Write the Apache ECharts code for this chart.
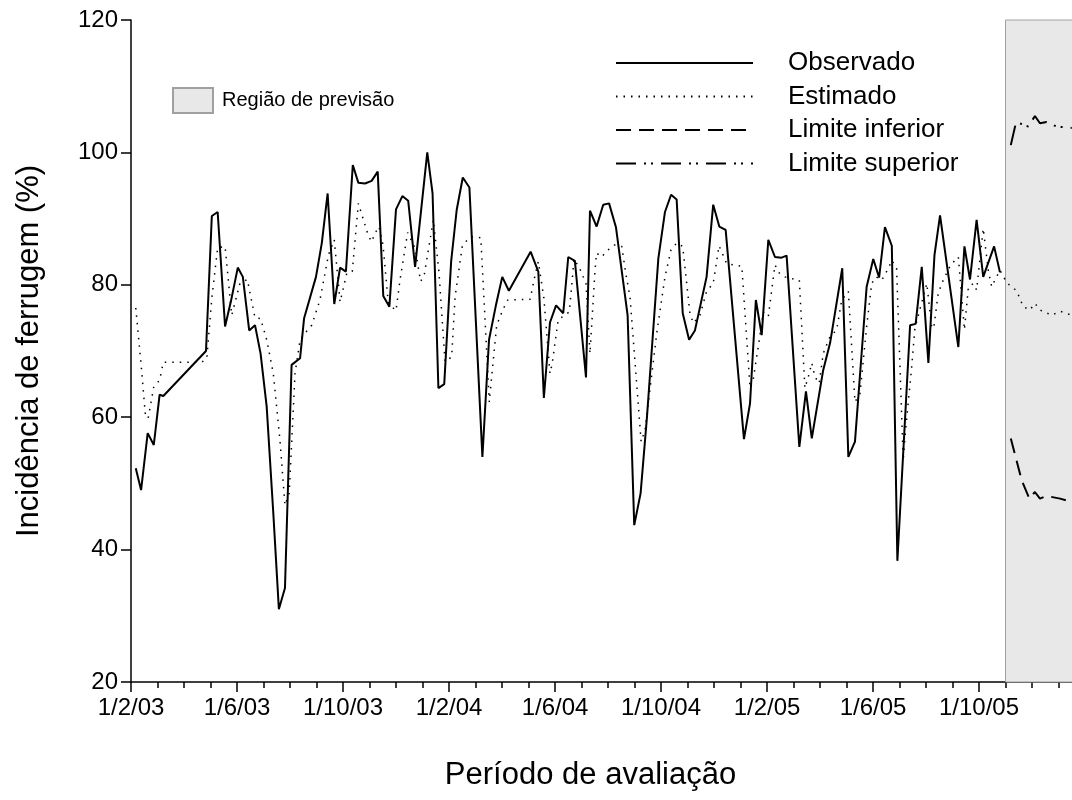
<!DOCTYPE html>
<html>
<head>
<meta charset="utf-8">
<script src="https://cdn.jsdelivr.net/npm/echarts@6/dist/echarts.min.js"></script>
<style>
  html, body { margin: 0; padding: 0; background: #fff; overflow: hidden; }
  /* a área do gráfico continua além da borda direita, como no original recortado */
  #chart { width: 1085px; height: 800px; }
</style>
</head>
<body>
<div id="chart"></div>
<script>
// eixo x: meses desde 1/2/03
const tickLabels = ['1/2/03', '1/6/03', '1/10/03', '1/2/04', '1/6/04', '1/10/04', '1/2/05', '1/6/05', '1/10/05']

// observado
const obsMonths = [0.18, 0.38, 0.63, 0.86, 1.08, 1.22, 2.83, 3.05, 3.27, 3.55, 3.77, 4.03, 4.22, 4.46, 4.68, 4.89,
    5.12, 5.37, 5.58, 5.81, 6.06, 6.38, 6.53, 6.98, 7.20, 7.42, 7.67, 7.89, 8.11, 8.37, 8.58, 8.83, 9.08, 9.31,
    9.52, 9.75, 10.00, 10.24, 10.46, 10.72, 11.18, 11.38, 11.60, 11.82, 12.08, 12.29, 12.52, 12.77, 13.26, 13.51,
    13.77, 14.01, 14.26, 15.08, 15.37, 15.58, 15.81, 16.04, 16.31, 16.50, 16.75, 17.17, 17.32, 17.57, 17.82, 18.04,
    18.30, 18.74, 18.99, 19.23, 19.47, 19.90, 20.15, 20.38, 20.59, 20.82, 21.06, 21.28, 21.72, 21.97, 22.20, 22.44,
    23.13, 23.36, 23.58, 23.80, 24.05, 24.30, 24.55, 24.74, 25.22, 25.47, 25.69, 26.12, 26.38, 26.84, 27.07, 27.32,
    27.76, 28.01, 28.23, 28.45, 28.71, 28.92, 29.40, 29.61, 29.84, 30.09, 30.32, 30.53, 31.22, 31.45, 31.66, 31.91,
    32.16, 32.57, 32.79]
const obsValues = [52.3, 49.0, 57.6, 55.8, 63.4, 63.2, 70.0, 90.4, 91.0, 73.7, 77.5, 82.6, 81.2, 73.1, 73.9, 69.6,
    61.6, 45.5, 31.0, 34.2, 67.9, 68.9, 74.9, 81.2, 86.3, 93.8, 77.1, 82.6, 82.0, 98.1, 95.4, 95.3, 95.7, 97.1,
    78.3, 76.7, 91.4, 93.4, 92.7, 82.7, 100.0, 93.8, 64.4, 65.0, 83.5, 91.3, 96.2, 94.7, 54.0, 71.7,
    76.9, 81.2, 79.1, 85.0, 82.0, 62.9, 74.3, 76.9, 75.7, 84.2, 83.6, 66.0, 91.2, 88.8, 92.1, 92.3,
    88.7, 75.4, 43.7, 48.5, 60.0, 84.0, 91.0, 93.6, 92.9, 75.7, 71.7, 73.1, 81.2, 92.1, 88.8, 88.3,
    56.7, 62.1, 77.7, 72.4, 86.8, 84.2, 84.1, 84.4, 55.5, 63.9, 56.8, 67.1, 71.2, 82.5, 54.0, 56.3,
    79.7, 83.9, 81.1, 88.7, 85.9, 38.3, 73.9, 74.1, 82.7, 68.2, 84.5, 90.5, 70.6, 85.8, 80.8, 89.8,
    81.2, 85.8, 81.9]

// estimado (continua na região de previsão)
const estMonths = [0.18, 0.38, 0.55, 0.65, 0.86, 1.08, 1.22, 2.67, 2.86, 3.05, 3.27, 3.55, 3.80, 4.11, 4.39, 4.68,
    4.89, 5.12, 5.37, 5.62, 5.81, 5.97, 6.19, 6.38, 6.57, 6.82, 7.13, 7.45, 7.67, 7.89, 8.14, 8.35, 8.58, 8.68,
    8.95, 9.08, 9.21, 9.36, 9.51, 9.71, 10.00, 10.15, 10.44, 10.72, 10.93, 11.07, 11.41, 11.62, 11.85, 12.10,
    12.23, 12.50, 12.73, 12.92, 13.20, 13.52, 13.61, 13.80, 14.05, 14.22, 15.06, 15.25, 15.37, 15.58, 15.81, 15.89,
    16.12, 16.54, 16.72, 16.94, 17.17, 17.32, 17.51, 17.57, 17.76, 17.95, 18.24, 18.52, 18.67, 18.83, 19.25, 19.40,
    19.84, 20.15, 20.38, 20.59, 20.82, 21.09, 21.22, 21.47, 21.72, 21.97, 22.19, 22.48, 22.77, 23.05, 23.36, 23.48,
    23.71, 23.86, 24.05, 24.30, 24.46, 24.68, 24.97, 25.22, 25.43, 25.56, 25.69, 25.81, 25.97, 26.12, 26.38, 26.63,
    26.82, 27.07, 27.32, 27.51, 27.76, 27.95, 28.11, 28.33, 28.58, 28.71, 28.89, 29.14, 29.23, 29.46, 29.58, 29.81,
    30.03, 30.22, 30.30, 30.46, 30.65, 30.93, 31.22, 31.45, 31.60, 31.79, 31.91, 32.16, 32.35, 32.48, 32.60, 32.79,
    33.05, 33.42, 33.67, 33.92, 34.11, 34.30, 34.74, 35.06, 35.43]
const estValues = [76.5, 68.0, 60.0, 59.9, 64.6, 65.6, 68.3, 68.3, 68.9, 78.0, 85.6, 85.8, 75.4, 80.2, 80.8, 75.0,
    74.9, 71.7, 66.6, 56.6, 46.7, 48.5, 66.6, 71.7, 72.7, 73.9, 77.7, 84.5, 86.8, 77.4, 81.7, 82.0, 92.3, 91.0,
    87.5, 86.5, 87.8, 88.8, 86.0, 77.2, 76.1, 80.7, 87.9, 85.5, 80.5, 81.6, 89.8, 82.0, 68.4, 69.1,
    78.2, 85.8, 87.0, 87.3, 87.1, 62.3, 66.1, 73.9, 76.4, 77.7, 77.8, 81.5, 83.5, 78.0, 66.6, 68.0,
    74.7, 75.9, 83.9, 82.4, 80.2, 69.6, 82.2, 84.8, 84.2, 85.1, 86.0, 85.8, 81.7, 78.2, 56.3, 58.1,
    72.7, 81.2, 85.3, 86.3, 85.8, 75.7, 74.2, 75.4, 79.0, 80.2, 85.9, 83.2, 83.0, 82.8, 64.4, 65.7,
    71.7, 75.9, 75.2, 83.0, 81.8, 81.2, 80.9, 80.7, 64.4, 66.1, 68.2, 66.1, 65.1, 69.6, 72.2, 73.2,
    77.7, 79.0, 62.3, 63.6, 73.7, 80.2, 81.2, 80.7, 82.5, 83.7, 82.5, 53.5, 58.1, 67.6, 73.4, 76.9,
    80.2, 73.4, 73.7, 78.7, 80.7, 83.0, 84.2, 73.2, 79.7, 80.2, 79.2, 88.5, 82.2, 79.7, 80.7, 82.2,
    80.3, 79.1, 76.7, 76.2, 77.2, 76.2, 75.4, 76.0, 75.5]

// limites da previsão
const lowerMonths = [33.20, 33.61, 33.90, 34.11, 34.30, 34.55, 35.06, 35.50]
const lowerValues = [56.8, 50.5, 47.7, 48.7, 47.7, 48.1, 47.7, 47.2]
const upperMonths = [33.20, 33.40, 33.86, 34.11, 34.30, 34.55, 34.93, 35.50]
const upperValues = [101.1, 104.6, 103.9, 105.5, 104.4, 104.6, 103.9, 103.7]

// início da região de previsão (1/11/05)
const forecastStart = 33

function pairs(xs, ys) {
    return xs.map(function (x, i) { return [x, ys[i]] })
}

const font = 'Liberation Sans, Arial, sans-serif'
const chart = echarts.init(document.getElementById('chart'))

const option = {
    animation: false,
    backgroundColor: '#fff',
    textStyle: { fontFamily: font, color: '#000' },
    grid: { left: 131, right: 0, top: 20, bottom: 118, containLabel: false },
    legend: [
        {
            data: ['Observado', 'Estimado', 'Limite inferior', 'Limite superior'],
            orient: 'vertical',
            left: 610,
            top: 45,
            itemWidth: 137,
            itemHeight: 14,
            itemGap: 7.5,
            selectedMode: false,
            itemStyle: { opacity: 0 },
            textStyle: { fontFamily: font, fontSize: 26, color: '#000', padding: [0, 0, 0, 30] }
        },
        {
            data: [{ name: 'Região de previsão', icon: 'rect' }],
            left: 167,
            top: 82,
            itemWidth: 40,
            itemHeight: 25,
            selectedMode: false,
            textStyle: { fontFamily: font, fontSize: 20, color: '#000', padding: [0, 0, 0, 4] }
        }
    ],
    xAxis: {
        type: 'value',
        min: 0,
        max: 36,
        interval: 4,
        name: 'Período de avaliação',
        nameLocation: 'middle',
        nameGap: 78,
        nameTextStyle: { fontFamily: font, fontSize: 31, color: '#000', padding: [0, 35, 0, 0] },
        splitLine: { show: false },
        axisLine: { lineStyle: { color: '#000', width: 1.5 } },
        axisTick: { length: 10, lineStyle: { color: '#000', width: 1.5 } },
        minorTick: { show: true, splitNumber: 4, length: 6, lineStyle: { color: '#000', width: 1.5 } },
        axisLabel: {
            showMaxLabel: false,
            margin: 14,
            fontFamily: font,
            fontSize: 24,
            color: '#000',
            formatter: function (v) { return tickLabels[v / 4] || '' }
        }
    },
    yAxis: {
        type: 'value',
        min: 20,
        max: 120,
        interval: 20,
        name: 'Incidência de ferrugem (%)',
        nameLocation: 'middle',
        nameGap: 86,
        nameTextStyle: { fontFamily: font, fontSize: 31, color: '#000' },
        splitLine: { show: false },
        axisLine: { show: true, lineStyle: { color: '#000', width: 1.5 } },
        axisTick: { show: true, length: 10, lineStyle: { color: '#000', width: 1.5 } },
        axisLabel: { margin: 13, fontFamily: font, fontSize: 24, color: '#000' }
    },
    series: [
        {
            // só para a legenda e a faixa cinza
            name: 'Região de previsão',
            type: 'bar',
            data: [],
            z: 1,
            itemStyle: { color: '#e8e8e8', borderColor: '#a0a0a0', borderWidth: 1 },
            markArea: {
                silent: true,
                itemStyle: { color: '#e8e8e8', borderColor: '#a0a0a0', borderWidth: 1 },
                data: [[{ xAxis: forecastStart, yAxis: 20 }, { xAxis: 36, yAxis: 120 }]]
            }
        },
        {
            name: 'Observado',
            type: 'line',
            symbol: 'none',
            z: 4,
            data: pairs(obsMonths, obsValues),
            itemStyle: { color: '#000' },
            lineStyle: { color: '#000', width: 2 }
        },
        {
            name: 'Estimado',
            type: 'line',
            symbol: 'none',
            z: 3,
            data: pairs(estMonths, estValues),
            itemStyle: { color: '#000' },
            lineStyle: { color: '#000', width: 1.5, type: [1.5, 6] }
        },
        {
            name: 'Limite inferior',
            type: 'line',
            symbol: 'none',
            z: 3,
            data: pairs(lowerMonths, lowerValues),
            itemStyle: { color: '#000' },
            lineStyle: { color: '#000', width: 2, type: [15, 8] }
        },
        {
            name: 'Limite superior',
            type: 'line',
            symbol: 'none',
            z: 3,
            data: pairs(upperMonths, upperValues),
            itemStyle: { color: '#000' },
            lineStyle: { color: '#000', width: 2, type: [20, 8, 2, 5, 2, 8] }
        }
    ]
}
chart.setOption(option)
</script>
</body>
</html>
